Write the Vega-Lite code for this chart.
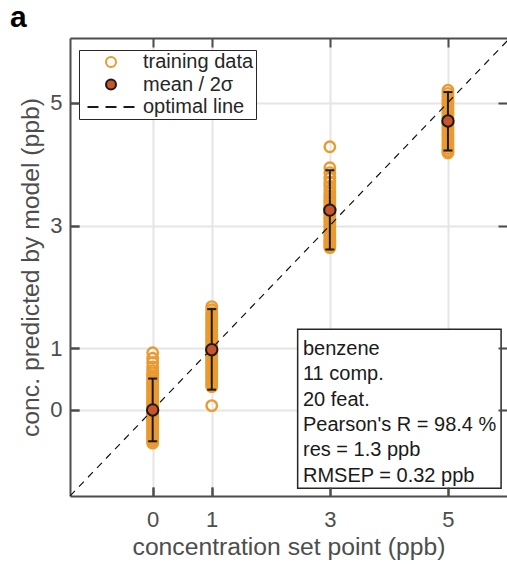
{
  "$schema": "https://vega.github.io/schema/vega-lite/v6.json",
  "width": 437,
  "height": 458,
  "autosize": {"type": "none"},
  "padding": {"left": 70, "top": 38, "right": 0, "bottom": 68},
  "background": "white",
  "title": {"text": "a", "anchor": "start", "frame": "group", "dx": -60, "dy": 30, "fontSize": 30, "fontWeight": "bold", "color": "black", "font": "Liberation Sans", "baseline": "alphabetic", "offset": 10},
  "datasets": {
    "train": [
      {"x": 0, "y": 0.93, "series": "training data"}, {"x": 0, "y": 0.84, "series": "training data"}, {"x": 0, "y": 0.77, "series": "training data"}, {"x": 0, "y": 0.70, "series": "training data"}, {"x": 0, "y": 0.64, "series": "training data"}, {"x": 0, "y": 0.59, "series": "training data"}, {"x": 0, "y": 0.55, "series": "training data"}, {"x": 0, "y": 0.51, "series": "training data"}, {"x": 0, "y": 0.47, "series": "training data"}, {"x": 0, "y": 0.44, "series": "training data"}, {"x": 0, "y": 0.40, "series": "training data"}, {"x": 0, "y": 0.37, "series": "training data"}, {"x": 0, "y": 0.33, "series": "training data"}, {"x": 0, "y": 0.30, "series": "training data"}, {"x": 0, "y": 0.27, "series": "training data"}, {"x": 0, "y": 0.23, "series": "training data"}, {"x": 0, "y": 0.20, "series": "training data"}, {"x": 0, "y": 0.17, "series": "training data"}, {"x": 0, "y": 0.14, "series": "training data"}, {"x": 0, "y": 0.11, "series": "training data"}, {"x": 0, "y": 0.08, "series": "training data"}, {"x": 0, "y": 0.05, "series": "training data"}, {"x": 0, "y": 0.02, "series": "training data"}, {"x": 0, "y": -0.01, "series": "training data"}, {"x": 0, "y": -0.04, "series": "training data"}, {"x": 0, "y": -0.07, "series": "training data"}, {"x": 0, "y": -0.10, "series": "training data"}, {"x": 0, "y": -0.13, "series": "training data"}, {"x": 0, "y": -0.17, "series": "training data"}, {"x": 0, "y": -0.20, "series": "training data"}, {"x": 0, "y": -0.23, "series": "training data"}, {"x": 0, "y": -0.26, "series": "training data"}, {"x": 0, "y": -0.29, "series": "training data"}, {"x": 0, "y": -0.33, "series": "training data"}, {"x": 0, "y": -0.36, "series": "training data"}, {"x": 0, "y": -0.39, "series": "training data"}, {"x": 0, "y": -0.42, "series": "training data"}, {"x": 0, "y": -0.45, "series": "training data"}, {"x": 0, "y": -0.48, "series": "training data"}, {"x": 0, "y": -0.51, "series": "training data"}, {"x": 0, "y": -0.54, "series": "training data"},
      {"x": 1, "y": 1.68, "series": "training data"}, {"x": 1, "y": 1.63, "series": "training data"}, {"x": 1, "y": 1.58, "series": "training data"}, {"x": 1, "y": 1.54, "series": "training data"}, {"x": 1, "y": 1.50, "series": "training data"}, {"x": 1, "y": 1.46, "series": "training data"}, {"x": 1, "y": 1.42, "series": "training data"}, {"x": 1, "y": 1.38, "series": "training data"}, {"x": 1, "y": 1.34, "series": "training data"}, {"x": 1, "y": 1.30, "series": "training data"}, {"x": 1, "y": 1.26, "series": "training data"}, {"x": 1, "y": 1.23, "series": "training data"}, {"x": 1, "y": 1.19, "series": "training data"}, {"x": 1, "y": 1.15, "series": "training data"}, {"x": 1, "y": 1.12, "series": "training data"}, {"x": 1, "y": 1.08, "series": "training data"}, {"x": 1, "y": 1.04, "series": "training data"}, {"x": 1, "y": 1.01, "series": "training data"}, {"x": 1, "y": 0.97, "series": "training data"}, {"x": 1, "y": 0.94, "series": "training data"}, {"x": 1, "y": 0.90, "series": "training data"}, {"x": 1, "y": 0.87, "series": "training data"}, {"x": 1, "y": 0.83, "series": "training data"}, {"x": 1, "y": 0.79, "series": "training data"}, {"x": 1, "y": 0.76, "series": "training data"}, {"x": 1, "y": 0.72, "series": "training data"}, {"x": 1, "y": 0.68, "series": "training data"}, {"x": 1, "y": 0.64, "series": "training data"}, {"x": 1, "y": 0.60, "series": "training data"}, {"x": 1, "y": 0.56, "series": "training data"}, {"x": 1, "y": 0.52, "series": "training data"}, {"x": 1, "y": 0.48, "series": "training data"}, {"x": 1, "y": 0.44, "series": "training data"}, {"x": 1, "y": 0.41, "series": "training data"}, {"x": 1, "y": 0.38, "series": "training data"}, {"x": 1, "y": 0.07, "series": "training data"},
      {"x": 3, "y": 4.28, "series": "training data"}, {"x": 3, "y": 3.94, "series": "training data"}, {"x": 3, "y": 3.86, "series": "training data"}, {"x": 3, "y": 3.77, "series": "training data"}, {"x": 3, "y": 3.70, "series": "training data"}, {"x": 3, "y": 3.64, "series": "training data"}, {"x": 3, "y": 3.58, "series": "training data"}, {"x": 3, "y": 3.53, "series": "training data"}, {"x": 3, "y": 3.48, "series": "training data"}, {"x": 3, "y": 3.44, "series": "training data"}, {"x": 3, "y": 3.40, "series": "training data"}, {"x": 3, "y": 3.36, "series": "training data"}, {"x": 3, "y": 3.32, "series": "training data"}, {"x": 3, "y": 3.28, "series": "training data"}, {"x": 3, "y": 3.25, "series": "training data"}, {"x": 3, "y": 3.21, "series": "training data"}, {"x": 3, "y": 3.17, "series": "training data"}, {"x": 3, "y": 3.13, "series": "training data"}, {"x": 3, "y": 3.09, "series": "training data"}, {"x": 3, "y": 3.05, "series": "training data"}, {"x": 3, "y": 3.01, "series": "training data"}, {"x": 3, "y": 2.97, "series": "training data"}, {"x": 3, "y": 2.93, "series": "training data"}, {"x": 3, "y": 2.89, "series": "training data"}, {"x": 3, "y": 2.85, "series": "training data"}, {"x": 3, "y": 2.81, "series": "training data"}, {"x": 3, "y": 2.77, "series": "training data"}, {"x": 3, "y": 2.73, "series": "training data"}, {"x": 3, "y": 2.70, "series": "training data"}, {"x": 3, "y": 2.67, "series": "training data"}, {"x": 3, "y": 2.64, "series": "training data"},
      {"x": 5, "y": 5.20, "series": "training data"}, {"x": 5, "y": 5.15, "series": "training data"}, {"x": 5, "y": 5.10, "series": "training data"}, {"x": 5, "y": 5.05, "series": "training data"}, {"x": 5, "y": 5.01, "series": "training data"}, {"x": 5, "y": 4.97, "series": "training data"}, {"x": 5, "y": 4.93, "series": "training data"}, {"x": 5, "y": 4.89, "series": "training data"}, {"x": 5, "y": 4.85, "series": "training data"}, {"x": 5, "y": 4.81, "series": "training data"}, {"x": 5, "y": 4.77, "series": "training data"}, {"x": 5, "y": 4.73, "series": "training data"}, {"x": 5, "y": 4.69, "series": "training data"}, {"x": 5, "y": 4.65, "series": "training data"}, {"x": 5, "y": 4.61, "series": "training data"}, {"x": 5, "y": 4.57, "series": "training data"}, {"x": 5, "y": 4.53, "series": "training data"}, {"x": 5, "y": 4.49, "series": "training data"}, {"x": 5, "y": 4.45, "series": "training data"}, {"x": 5, "y": 4.41, "series": "training data"}, {"x": 5, "y": 4.37, "series": "training data"}, {"x": 5, "y": 4.33, "series": "training data"}, {"x": 5, "y": 4.29, "series": "training data"}, {"x": 5, "y": 4.25, "series": "training data"}, {"x": 5, "y": 4.21, "series": "training data"}, {"x": 5, "y": 4.18, "series": "training data"}
    ],
    "mean": [
      {"x": 0, "mean": 0.0, "lo": -0.51, "hi": 0.51, "series": "mean / 2σ"},
      {"x": 1, "mean": 0.98, "lo": 0.33, "hi": 1.64, "series": "mean / 2σ"},
      {"x": 3, "mean": 3.25, "lo": 2.61, "hi": 3.90, "series": "mean / 2σ"},
      {"x": 5, "mean": 4.70, "lo": 4.22, "hi": 5.17, "series": "mean / 2σ"}
    ],
    "diag": [
      {"x": -1.4, "y": -1.4},
      {"x": 6.05, "y": 6.05}
    ]
  },
  "layer": [
    {
      "data": {"name": "train"},
      "mark": {"type": "point", "size": 110, "strokeWidth": 2.4, "opacity": 1},
      "encoding": {
        "x": {"field": "x", "type": "quantitative", "scale": {"domain": [-1.4, 6.0], "nice": false, "zero": false},
              "axis": {"orient": "bottom", "values": [0, 1, 3, 5], "grid": true, "ticks": true, "tickSize": -9, "title": "concentration set point (ppb)", "labelPadding": 22, "titlePadding": 4}},
        "y": {"field": "y", "type": "quantitative", "scale": {"domain": [-1.4, 6.05], "nice": false, "zero": false},
              "axis": {"orient": "left", "values": [0, 1, 3, 5], "grid": true, "ticks": true, "tickSize": -9, "title": "conc. predicted by model (ppb)", "labelPadding": 17, "titlePadding": 6}},
        "shape": {"field": "series", "type": "nominal", "title": null,
                  "scale": {"domain": ["training data", "mean / 2σ", "optimal line"], "range": ["circle", "circle", "M-4.7,0H-2.5M-1.1,0H1.1M2.5,0H4.7"]}},
        "stroke": {"field": "series", "type": "nominal", "title": null,
                   "scale": {"domain": ["training data", "mean / 2σ", "optimal line"], "range": ["#EA9A2F", "#1a1a1a", "#1a1a1a"]}},
        "fill": {"field": "series", "type": "nominal", "title": null,
                 "scale": {"domain": ["training data", "mean / 2σ", "optimal line"], "range": ["transparent", "#C9532A", "transparent"]}}
      }
    },
    {
      "data": {"name": "diag"},
      "mark": {"type": "line", "strokeDash": [7, 6], "strokeWidth": 1.2, "color": "#111111", "clip": true},
      "encoding": {
        "x": {"field": "x", "type": "quantitative", "axis": {"orient": "top", "values": [0, 1, 3, 5], "grid": false, "ticks": false, "labels": false, "title": null}},
        "y": {"field": "y", "type": "quantitative", "axis": {"orient": "right", "offset": -9, "values": [0, 1, 3, 5], "grid": false, "domain": false, "labels": false, "ticks": true, "tickSize": 9, "title": null, "zindex": 1}}
      }
    },
    {
      "data": {"name": "mean"},
      "mark": {"type": "rule", "color": "#1a1a1a", "strokeWidth": 2},
      "encoding": {
        "x": {"field": "x", "type": "quantitative", "axis": {"orient": "bottom", "offset": -9, "values": [0, 1, 3, 5], "grid": false, "domain": false, "labels": false, "ticks": true, "tickSize": 9, "title": null, "zindex": 1}},
        "y": {"field": "lo", "type": "quantitative", "axis": {"orient": "left", "offset": -9, "values": [0, 1, 3, 5], "grid": false, "domain": false, "labels": false, "ticks": true, "tickSize": 9, "title": null, "zindex": 1}},
        "y2": {"field": "hi"}
      }
    },
    {
      "data": {"name": "mean"},
      "mark": {"type": "tick", "orient": "horizontal", "size": 9, "thickness": 2, "color": "#1a1a1a", "opacity": 1},
      "encoding": {
        "x": {"field": "x", "type": "quantitative", "axis": {"orient": "top", "offset": -9, "values": [0, 1, 3, 5], "grid": false, "domain": false, "labels": false, "ticks": true, "tickSize": 9, "title": null, "zindex": 1}},
        "y": {"field": "lo", "type": "quantitative", "axis": null}
      }
    },
    {
      "data": {"name": "mean"},
      "mark": {"type": "tick", "orient": "horizontal", "size": 9, "thickness": 2, "color": "#1a1a1a", "opacity": 1},
      "encoding": {
        "x": {"field": "x", "type": "quantitative", "axis": null},
        "y": {"field": "hi", "type": "quantitative", "axis": null}
      }
    },
    {
      "data": {"name": "mean"},
      "mark": {"type": "point", "size": 130, "strokeWidth": 2, "opacity": 1},
      "encoding": {
        "x": {"field": "x", "type": "quantitative", "axis": null},
        "y": {"field": "mean", "type": "quantitative", "axis": null},
        "shape": {"field": "series", "type": "nominal", "title": null},
        "stroke": {"field": "series", "type": "nominal", "title": null},
        "fill": {"field": "series", "type": "nominal", "title": null}
      }
    },
    {
      "data": {"values": [{}]},
      "mark": {"type": "rect", "fill": "white", "stroke": "#262626", "strokeWidth": 1.5},
      "encoding": {
        "x": {"datum": 2.455, "type": "quantitative", "axis": null},
        "x2": {"datum": 5.9},
        "y": {"datum": 1.313, "type": "quantitative", "axis": null},
        "y2": {"datum": -1.274}
      }
    },
    {
      "data": {"values": [{}]},
      "mark": {"type": "text", "align": "left", "baseline": "alphabetic", "fontSize": 20, "lineHeight": 25.3, "font": "Liberation Sans", "color": "#1a1a1a",
               "text": ["benzene", "11 comp.", "20 feat.", "Pearson's R = 98.4 %", "res = 1.3 ppb", "RMSEP = 0.32 ppb"]},
      "encoding": {
        "x": {"datum": 2.545, "type": "quantitative", "axis": null},
        "y": {"datum": 0.893, "type": "quantitative", "axis": null}
      }
    }
  ],
  "config": {
    "view": {"stroke": null},
    "axis": {"labelFont": "Liberation Sans", "titleFont": "Liberation Sans", "labelFontSize": 22, "titleFontSize": 24.7,
             "labelColor": "#4d4d4d", "titleColor": "#4d4d4d", "domainColor": "#4d4d4d", "domainWidth": 2,
             "tickColor": "#4d4d4d", "tickWidth": 2, "gridColor": "#e5e5e5", "gridWidth": 2,
             "titleFontWeight": "normal"},
    "legend": {"orient": "none", "legendX": 9, "legendY": 12, "labelFont": "Liberation Sans", "labelFontSize": 20,
               "labelColor": "#262626", "symbolStrokeWidth": 2, "symbolSize": 100, "padding": 2, "rowPadding": 2.5,
               "strokeColor": "#262626", "fillColor": "white", "symbolOffset": 20, "labelOffset": 22, "cornerRadius": 0}
  }
}
